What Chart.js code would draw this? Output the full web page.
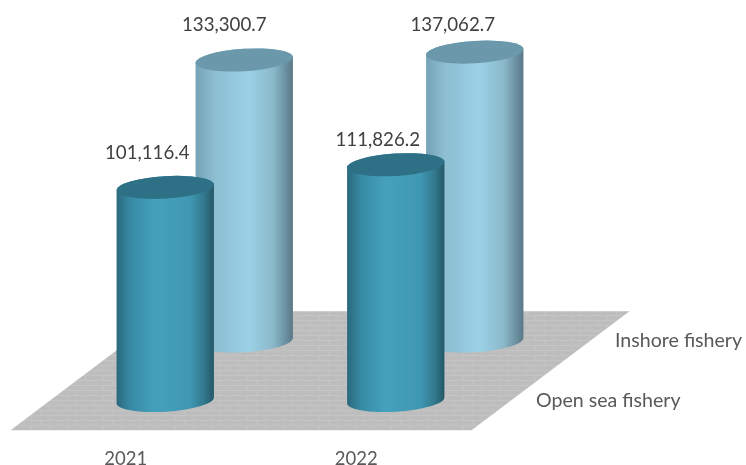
<!DOCTYPE html>
<html>
<head>
<meta charset="utf-8">
<title>Fishery output</title>
<script src="https://cdn.jsdelivr.net/npm/chart.js@4/dist/chart.umd.min.js"></script>
<style>
    html, body { margin: 0; padding: 0; background: #fff; }
    canvas { display: block; }
</style>
</head>
<body>
<canvas id="fisheryChart" width="746" height="465"></canvas>
<script>
const years = ['2021', '2022'];
const openSeaValues = [101116.4, 111826.2];
const inshoreValues = [133300.7, 137062.7];

// how far one row sits behind the other on the floor
const DEPTH_X = 79;
const DEPTH_Y = 59.5;
const TILT = -0.06;
const RY = 11.2;

const VALUE_FONT = '18.7px Lato';
const ROW_FONT = '19.6px Lato';

const rowStyles = [
    {
        top: '#2e7186',
        stops: [[0, '#2b687c'], [0.14, '#378aa4'], [0.4, '#44a1bc'], [0.75, '#3f98b2'], [0.9, '#32788e'], [1, '#245766']],
        valueNudge: [{ x: -18, y: -34 }, { x: -18, y: -25 }]
    },
    {
        top: '#6b98aa',
        stops: [[0, '#74a3b6'], [0.2, '#8dbed2'], [0.55, '#9bd1e6'], [0.8, '#8ab8c9'], [1, '#587887']],
        valueNudge: [{ x: -20, y: -35 }, { x: -22, y: -27 }]
    }
];

function brickPattern(ctx) {
    const tile = document.createElement('canvas');
    tile.width = 18;
    tile.height = 10;
    const t = tile.getContext('2d');
    t.fillStyle = '#bdbdbd';
    t.fillRect(0, 0, 18, 10);
    t.strokeStyle = '#c4c4c4';
    t.lineWidth = 1;
    t.beginPath();
    t.moveTo(0, 0.5); t.lineTo(18, 0.5);
    t.moveTo(0, 5.5); t.lineTo(18, 5.5);
    t.moveTo(4.5, 0); t.lineTo(4.5, 5);
    t.moveTo(13.5, 5); t.lineTo(13.5, 10);
    t.stroke();
    return ctx.createPattern(tile, 'repeat');
}

// floor runs half a row in front of the first row and 1.5 rows behind the second
const floorPlugin = {
    id: 'floor',
    beforeDatasetsDraw(chart) {
        const { ctx, chartArea: a } = chart;
        const frontY = a.bottom + DEPTH_Y / 2;
        const backY = a.bottom - DEPTH_Y * 1.5;
        const frontL = a.left - DEPTH_X / 2;
        const frontR = a.right - DEPTH_X / 2;
        ctx.save();
        ctx.beginPath();
        ctx.moveTo(frontL, frontY);
        ctx.lineTo(frontR, frontY);
        ctx.lineTo(frontR + DEPTH_X * 2, backY);
        ctx.lineTo(frontL + DEPTH_X * 2, backY);
        ctx.closePath();
        ctx.fillStyle = brickPattern(ctx);
        ctx.fill();
        ctx.restore();
    }
};

function drawCylinder(ctx, bar, style, dx, dy) {
    const cx = bar.x + dx;
    const rx = bar.width / 2;
    const top = bar.y + dy;
    const base = bar.base + dy;

    const grad = ctx.createLinearGradient(cx - rx, 0, cx + rx, 0);
    style.stops.forEach(s => grad.addColorStop(s[0], s[1]));

    ctx.beginPath();
    ctx.ellipse(cx, base, rx, RY, TILT, 0, Math.PI);
    ctx.ellipse(cx, top, rx, RY, TILT, Math.PI, 0);
    ctx.closePath();
    ctx.fillStyle = grad;
    ctx.fill();

    ctx.beginPath();
    ctx.ellipse(cx, top, rx, RY, TILT, 0, Math.PI * 2);
    ctx.fillStyle = style.top;
    ctx.fill();
}

const cylinderPlugin = {
    id: 'cylinders',
    afterDatasetsDraw(chart) {
        const { ctx } = chart;
        ctx.save();
        // back row first so the front row covers it
        [1, 0].forEach(row => {
            const meta = chart.getDatasetMeta(row);
            const dx = row * DEPTH_X;
            const dy = -row * DEPTH_Y;
            meta.data.forEach(bar => drawCylinder(ctx, bar, rowStyles[row], dx, dy));
        });

        // value labels go on last
        ctx.font = VALUE_FONT;
        ctx.fillStyle = '#404040';
        ctx.textAlign = 'center';
        ctx.textBaseline = 'middle';
        [0, 1].forEach(row => {
            const values = chart.data.datasets[row].data;
            chart.getDatasetMeta(row).data.forEach((bar, i) => {
                const nudge = rowStyles[row].valueNudge[i];
                const text = values[i].toLocaleString('en-US', { minimumFractionDigits: 1 });
                ctx.fillText(text, bar.x + row * DEPTH_X + nudge.x, bar.y - row * DEPTH_Y + nudge.y);
            });
        });

        // row names beside the floor
        const a = chart.chartArea;
        ctx.font = ROW_FONT;
        ctx.fillStyle = '#595959';
        ctx.textAlign = 'left';
        chart.data.datasets.forEach((ds, row) => {
            ctx.fillText(ds.label, a.right + 25 + row * DEPTH_X, a.bottom - row * DEPTH_Y);
        });
        ctx.restore();
    }
};

new Chart(document.getElementById('fisheryChart'), {
    type: 'bar',
    data: {
        labels: years,
        datasets: [
            { label: 'Open sea fishery', data: openSeaValues, backgroundColor: 'transparent', grouped: false },
            { label: 'Inshore fishery', data: inshoreValues, backgroundColor: 'transparent', grouped: false }
        ]
    },
    options: {
        responsive: false,
        animation: false,
        barPercentage: 1,
        categoryPercentage: 0.423,
        layout: { padding: { left: 50, right: 235, top: 0, bottom: 0 } },
        plugins: {
            legend: { display: false },
            tooltip: { enabled: false }
        },
        scales: {
            x: {
                grid: { display: false },
                border: { display: false },
                afterFit(scale) { scale.height = 64.5; },
                ticks: {
                    color: '#595959',
                    font: { family: 'Lato', size: 18.5 },
                    padding: 39,
                    labelOffset: -DEPTH_X / 2
                }
            },
            y: {
                display: false,
                min: 0,
                max: 190000
            }
        }
    },
    plugins: [floorPlugin, cylinderPlugin]
});
</script>
</body>
</html>
